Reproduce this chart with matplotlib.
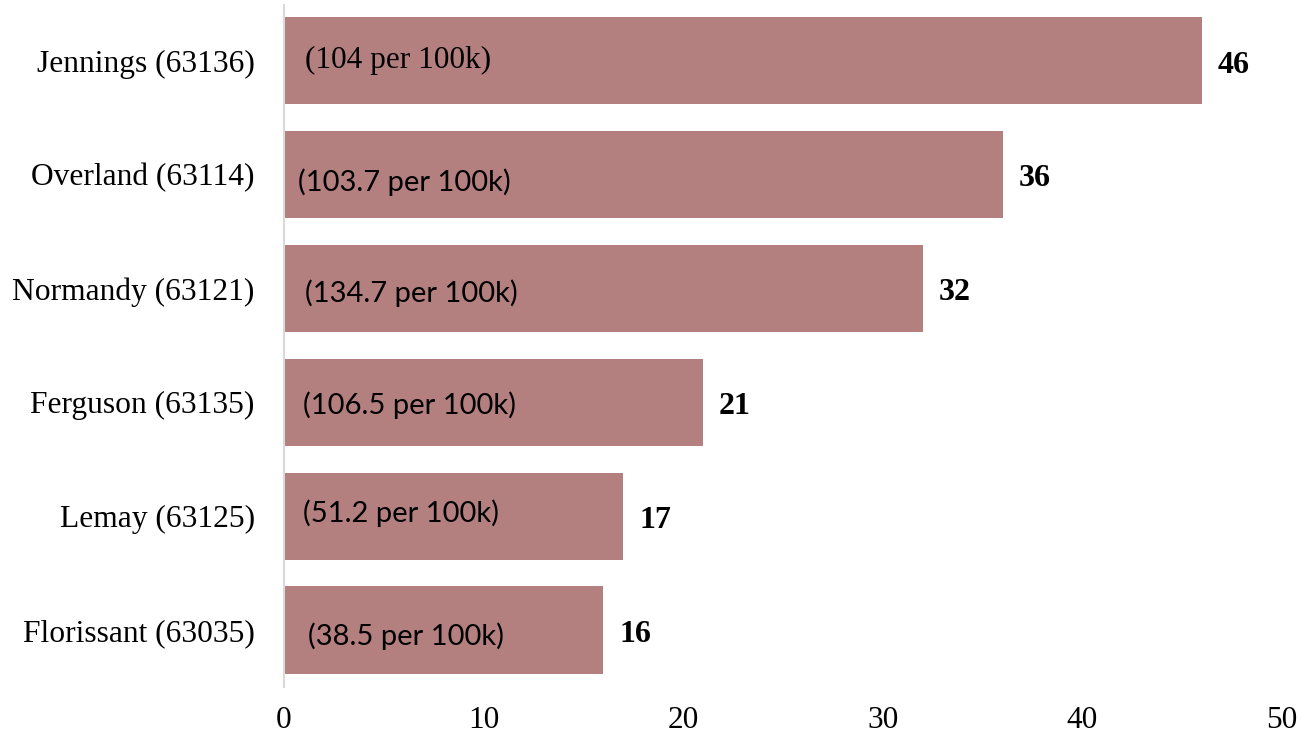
import matplotlib
matplotlib.use("Agg")
import matplotlib.pyplot as plt

categories = ["Jennings (63136)", "Overland (63114)", "Normandy (63121)",
              "Ferguson (63135)", "Lemay (63125)", "Florissant (63035)"]
counts = [46, 36, 32, 21, 17, 16]
rates = ["(104 per 100k)", "(103.7 per 100k)", "(134.7 per 100k)",
         "(106.5 per 100k)", "(51.2 per 100k)", "(38.5 per 100k)"]
xticks = [0, 10, 20, 30, 40, 50]

bar_color = "#b47f7f"
serif = ["Liberation Serif", "DejaVu Serif"]
sans = ["Lato", "Open Sans", "DejaVu Sans"]

fig = plt.figure(figsize=(13.02, 7.38), dpi=100)
ax = fig.add_axes([0.2181, 0.0691, 0.7665, 0.9241])

ypos = list(range(len(categories)))
ax.barh(ypos, counts, height=0.765, color=bar_color, zorder=2)
ax.set_ylim(5.5, -0.487)
ax.set_xlim(0, 50)

# inner rate labels (manually placed text boxes in the original)
dx = [1.05, 0.7, 1.05, 0.95, 0.95, 1.2]
dy = [0.0, 0.07, 0.04, 0.03, -0.03, 0.05]
for i, (r, c) in enumerate(zip(rates, counts)):
    if i == 0:
        ax.text(dx[i], i + dy[i], r, va="center", ha="left", fontsize=22.5,
                family=serif, color="black", zorder=3)
    else:
        ax.text(dx[i], i + dy[i], r, va="center", ha="left", fontsize=21,
                family=sans, color="black", zorder=3)
    ax.text(c + 0.8, i + 0.04, str(c), va="center", ha="left", fontsize=23,
            family=serif, fontweight="bold", color="black", zorder=3)

ax.set_yticks(ypos)
ax.set_yticklabels(categories, family=serif, fontsize=22.7)
ax.set_xticks(xticks)
ax.set_xticklabels([str(t) for t in xticks], family=serif, fontsize=22.5)
ax.tick_params(axis="both", length=0)
ax.tick_params(axis="y", pad=21)
ax.tick_params(axis="x", pad=14)

for s in ["top", "right", "bottom"]:
    ax.spines[s].set_visible(False)
ax.spines["left"].set_color("#d9d9d9")
ax.spines["left"].set_linewidth(1.5)

fig.savefig("out.png", dpi=100)
